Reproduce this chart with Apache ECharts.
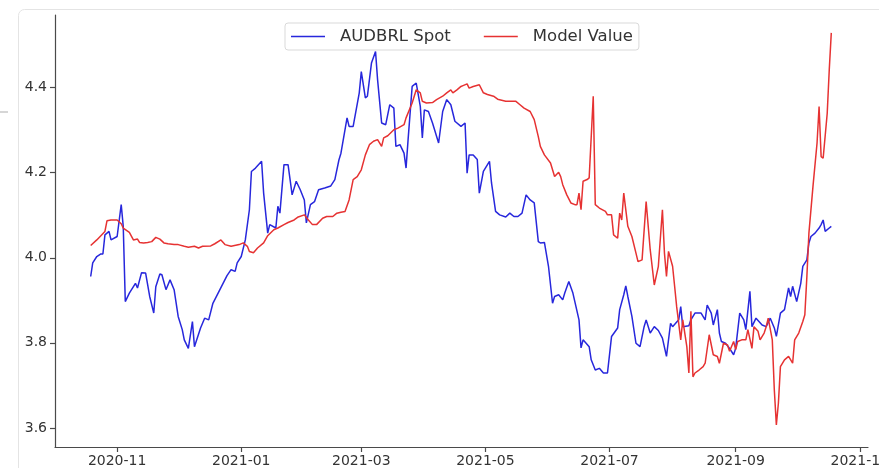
<!DOCTYPE html>
<html>
<head>
<meta charset="utf-8">
<script src="https://cdn.jsdelivr.net/npm/echarts@6/dist/echarts.min.js"></script>
<style>
html, body { margin: 0; padding: 0; background: #fff; }
#chart { width: 879px; height: 468px; }
</style>
</head>
<body>
<div id="chart"></div>
<script>
// AUDBRL Spot (blue)
var spotDates = [
	'2020-10-19','2020-10-20','2020-10-22','2020-10-24','2020-10-25','2020-10-26','2020-10-28','2020-10-29',
	'2020-11-01','2020-11-03','2020-11-04','2020-11-05','2020-11-07','2020-11-10','2020-11-11','2020-11-13',
	'2020-11-15','2020-11-17','2020-11-19','2020-11-20','2020-11-22','2020-11-23','2020-11-25','2020-11-27',
	'2020-11-29','2020-12-01','2020-12-03','2020-12-04','2020-12-06','2020-12-08','2020-12-09','2020-12-12',
	'2020-12-14','2020-12-16','2020-12-18','2020-12-22','2020-12-25','2020-12-27','2020-12-29','2020-12-30',
	'2021-01-01','2021-01-03','2021-01-05','2021-01-06','2021-01-08','2021-01-11','2021-01-12','2021-01-14',
	'2021-01-15','2021-01-18','2021-01-19','2021-01-20','2021-01-22','2021-01-24','2021-01-25','2021-01-26',
	'2021-01-28','2021-01-30','2021-02-01','2021-02-02','2021-02-04','2021-02-06','2021-02-08','2021-02-11',
	'2021-02-14','2021-02-16','2021-02-18','2021-02-19','2021-02-22','2021-02-23','2021-02-25','2021-02-28',
	'2021-03-01','2021-03-03','2021-03-04','2021-03-06','2021-03-08','2021-03-09','2021-03-11','2021-03-13',
	'2021-03-15','2021-03-17','2021-03-18','2021-03-20','2021-03-22','2021-03-23','2021-03-24','2021-03-26',
	'2021-03-28','2021-03-30','2021-03-31','2021-04-01','2021-04-03','2021-04-05','2021-04-08','2021-04-10',
	'2021-04-12','2021-04-14','2021-04-16','2021-04-19','2021-04-21','2021-04-22','2021-04-23','2021-04-25',
	'2021-04-27','2021-04-28','2021-04-30','2021-05-03','2021-05-04','2021-05-06','2021-05-08','2021-05-11',
	'2021-05-13','2021-05-15','2021-05-17','2021-05-19','2021-05-21','2021-05-23','2021-05-25','2021-05-27',
	'2021-05-28','2021-05-30','2021-06-01','2021-06-03','2021-06-04','2021-06-06','2021-06-08','2021-06-09',
	'2021-06-11','2021-06-13','2021-06-16','2021-06-17','2021-06-18','2021-06-21','2021-06-22','2021-06-24',
	'2021-06-26','2021-06-28','2021-06-30','2021-07-02','2021-07-05','2021-07-06','2021-07-08','2021-07-09',
	'2021-07-10','2021-07-12','2021-07-14','2021-07-16','2021-07-18','2021-07-19','2021-07-21','2021-07-23',
	'2021-07-25','2021-07-27','2021-07-29','2021-07-31','2021-08-01','2021-08-04','2021-08-05','2021-08-06',
	'2021-08-09','2021-08-10','2021-08-12','2021-08-15','2021-08-17','2021-08-18','2021-08-20','2021-08-21',
	'2021-08-23','2021-08-24','2021-08-25','2021-08-27','2021-08-29','2021-08-31','2021-09-01','2021-09-03',
	'2021-09-05','2021-09-06','2021-09-08','2021-09-09','2021-09-11','2021-09-14','2021-09-16','2021-09-18',
	'2021-09-20','2021-09-21','2021-09-23','2021-09-25','2021-09-27','2021-09-28','2021-09-29','2021-10-01',
	'2021-10-03','2021-10-04','2021-10-06','2021-10-07','2021-10-08','2021-10-10','2021-10-12','2021-10-13',
	'2021-10-14','2021-10-15','2021-10-17','2021-10-18'
];
var spotValues = [
	3.956,3.988,4.003,4.009,4.009,4.054,4.062,4.042,
	4.050,4.125,4.074,3.897,3.917,3.940,3.929,3.965,
	3.964,3.909,3.870,3.932,3.962,3.960,3.925,3.948,
	3.925,3.862,3.831,3.807,3.787,3.850,3.791,3.835,
	3.858,3.854,3.892,3.930,3.958,3.972,3.968,3.988,
	4.003,4.042,4.113,4.203,4.211,4.227,4.152,4.058,
	4.078,4.070,4.121,4.105,4.219,4.219,4.184,4.148,
	4.180,4.160,4.136,4.082,4.125,4.132,4.160,4.164,
	4.169,4.184,4.230,4.246,4.329,4.309,4.309,4.388,
	4.438,4.376,4.380,4.458,4.485,4.419,4.317,4.313,
	4.360,4.352,4.262,4.266,4.246,4.211,4.278,4.403,
	4.411,4.356,4.282,4.348,4.344,4.317,4.270,4.344,
	4.372,4.360,4.321,4.309,4.317,4.199,4.242,4.242,
	4.231,4.152,4.203,4.227,4.176,4.109,4.101,4.096,
	4.105,4.097,4.097,4.105,4.148,4.136,4.129,4.038,
	4.035,4.036,3.980,3.893,3.909,3.913,3.901,3.917,
	3.944,3.917,3.854,3.788,3.807,3.791,3.760,3.736,
	3.740,3.729,3.729,3.815,3.835,3.878,3.913,3.934,
	3.909,3.862,3.799,3.791,3.838,3.854,3.823,3.838,
	3.829,3.811,3.768,3.846,3.838,3.854,3.885,3.838,
	3.840,3.854,3.870,3.870,3.854,3.889,3.870,3.842,
	3.878,3.823,3.803,3.799,3.787,3.772,3.787,3.870,
	3.854,3.831,3.921,3.838,3.858,3.842,3.838,3.858,
	3.835,3.815,3.870,3.878,3.929,3.909,3.933,3.897,
	3.940,3.980,3.995,4.035,4.050,4.058,4.070,4.078,
	4.089,4.062,4.070,4.074
];

// Model Value (red)
var modelDates = [
	'2020-10-19','2020-10-22','2020-10-24','2020-10-26','2020-10-27','2020-10-29','2020-11-01','2020-11-03',
	'2020-11-04','2020-11-07','2020-11-09','2020-11-11','2020-11-12','2020-11-14','2020-11-16','2020-11-18',
	'2020-11-20','2020-11-22','2020-11-24','2020-11-26','2020-11-29','2020-12-01','2020-12-04','2020-12-06',
	'2020-12-09','2020-12-11','2020-12-13','2020-12-17','2020-12-19','2020-12-22','2020-12-24','2020-12-27',
	'2020-12-31','2021-01-02','2021-01-04','2021-01-05','2021-01-07','2021-01-09','2021-01-12','2021-01-14',
	'2021-01-17','2021-01-19','2021-01-22','2021-01-24','2021-01-27','2021-01-29','2021-02-01','2021-02-03',
	'2021-02-05','2021-02-07','2021-02-10','2021-02-12','2021-02-15','2021-02-17','2021-02-19','2021-02-21',
	'2021-02-23','2021-02-25','2021-02-27','2021-03-01','2021-03-03','2021-03-05','2021-03-07','2021-03-09',
	'2021-03-11','2021-03-12','2021-03-14','2021-03-17','2021-03-19','2021-03-22','2021-03-23','2021-03-26',
	'2021-03-28','2021-03-30','2021-03-31','2021-04-02','2021-04-05','2021-04-07','2021-04-10','2021-04-12',
	'2021-04-14','2021-04-15','2021-04-17','2021-04-19','2021-04-20','2021-04-22','2021-04-23','2021-04-25',
	'2021-04-28','2021-04-30','2021-05-02','2021-05-05','2021-05-07','2021-05-11','2021-05-13','2021-05-16',
	'2021-05-18','2021-05-20','2021-05-23','2021-05-25','2021-05-27','2021-05-28','2021-05-30','2021-06-02',
	'2021-06-04','2021-06-06','2021-06-07','2021-06-08','2021-06-10','2021-06-12','2021-06-14','2021-06-15',
	'2021-06-16','2021-06-17','2021-06-18','2021-06-20','2021-06-21','2021-06-23','2021-06-24','2021-06-26',
	'2021-06-29','2021-06-30','2021-07-02','2021-07-03','2021-07-05','2021-07-06','2021-07-07','2021-07-08',
	'2021-07-10','2021-07-12','2021-07-14','2021-07-15','2021-07-17','2021-07-19','2021-07-21','2021-07-23',
	'2021-07-25','2021-07-27','2021-07-28','2021-07-29','2021-07-30','2021-08-01','2021-08-02','2021-08-03',
	'2021-08-05','2021-08-06','2021-08-08','2021-08-09','2021-08-10','2021-08-11','2021-08-12','2021-08-14',
	'2021-08-16','2021-08-17','2021-08-19','2021-08-21','2021-08-23','2021-08-24','2021-08-26','2021-08-28',
	'2021-08-29','2021-08-31','2021-09-01','2021-09-02','2021-09-04','2021-09-06','2021-09-07','2021-09-09',
	'2021-09-10','2021-09-12','2021-09-13','2021-09-15','2021-09-16','2021-09-17','2021-09-19','2021-09-20',
	'2021-09-21','2021-09-22','2021-09-23','2021-09-25','2021-09-27','2021-09-29','2021-09-30','2021-10-02',
	'2021-10-04','2021-10-05','2021-10-06','2021-10-07','2021-10-09','2021-10-11','2021-10-12','2021-10-13',
	'2021-10-14','2021-10-16','2021-10-17','2021-10-18'
];
var modelValues = [
	4.029,4.042,4.052,4.062,4.087,4.089,4.089,4.080,
	4.070,4.060,4.042,4.044,4.036,4.035,4.036,4.038,
	4.048,4.044,4.035,4.033,4.031,4.031,4.027,4.025,
	4.027,4.023,4.027,4.028,4.033,4.042,4.031,4.027,
	4.031,4.035,4.027,4.015,4.012,4.023,4.035,4.052,
	4.066,4.070,4.078,4.083,4.089,4.096,4.101,4.089,
	4.078,4.078,4.093,4.097,4.097,4.105,4.107,4.109,
	4.136,4.184,4.191,4.207,4.242,4.266,4.274,4.278,
	4.262,4.282,4.287,4.301,4.305,4.313,4.329,4.364,
	4.395,4.388,4.368,4.364,4.365,4.372,4.380,4.388,
	4.395,4.388,4.395,4.403,4.405,4.409,4.399,4.403,
	4.407,4.388,4.384,4.380,4.373,4.368,4.368,4.368,
	4.360,4.352,4.344,4.325,4.285,4.262,4.242,4.223,
	4.191,4.201,4.191,4.172,4.148,4.129,4.125,4.125,
	4.152,4.113,4.180,4.184,4.188,4.380,4.125,4.117,
	4.109,4.101,4.101,4.054,4.046,4.105,4.089,4.152,
	4.074,4.050,4.011,3.991,3.995,4.132,4.019,3.936,
	3.980,4.113,4.011,3.956,4.015,3.980,3.933,3.885,
	3.807,3.854,3.791,3.729,3.874,3.720,3.729,3.736,
	3.744,3.752,3.819,3.772,3.768,3.752,3.799,3.795,
	3.780,3.803,3.784,3.803,3.807,3.807,3.831,3.787,
	3.838,3.827,3.807,3.823,3.838,3.858,3.807,3.689,
	3.607,3.658,3.744,3.760,3.768,3.752,3.807,3.823,
	3.850,3.866,3.956,4.058,4.168,4.270,4.356,4.238,
	4.234,4.340,4.442,4.529
];

var monthTicks = ['2020-11', '2021-01', '2021-03', '2021-05', '2021-07', '2021-09', '2021-11'];
var valueTicks = [3.6, 3.8, 4.0, 4.2, 4.4];

function toTime(s) { // 日期字符串转时间戳
	return new Date(s + 'T00:00:00').getTime();
}

(function() {
	var myChart = echarts.init(document.getElementById('chart'));
	var tickTimes = monthTicks.map(function(m) { return toTime(m + '-01'); });
	var axisColor = '#4a4a4a';
	var option = {
		animation: false,
		textStyle: { fontFamily: 'DejaVu Sans' },
		graphic: [
			{ // 截图里的卡片边框
				type: 'rect', z: -10, silent: true,
				shape: { x: 18.5, y: 9.5, width: 900, height: 520, r: 6 },
				style: { fill: 'none', stroke: '#e4e4e4', lineWidth: 1 }
			},
			{
				type: 'line', z: -10, silent: true,
				shape: { x1: 0, y1: 112, x2: 8, y2: 112 },
				style: { stroke: '#d6d6d6', lineWidth: 2 }
			}
		],
		legend: {
			left: 285,
			top: 23,
			data: [
				{ name: 'AUDBRL Spot', icon: 'rect' },
				{ name: 'Model Value', icon: 'rect' }
			],
			itemWidth: 34,
			itemHeight: 1.6, //图例画成细线
			itemGap: 33,
			padding: [5, 6, 5, 6],
			backgroundColor: '#fff',
			borderColor: '#d9d9d9',
			borderWidth: 1,
			borderRadius: 3,
			textStyle: { fontSize: 16.5, color: '#333', padding: [0, 0, 0, 10] }
		},
		grid: { left: 55, right: 11, top: 15, bottom: 21, outerBoundsMode: 'none' },
		xAxis: {
			type: 'value', // 时间戳当数值轴用，刻度按月手动指定
			min: toTime('2020-10-01') + 11 * 3600e3,
			max: toTime('2021-11-05') + 1 * 3600e3,
			axisLine: { show: true, lineStyle: { color: axisColor, width: 1.2 } },
			axisTick: { show: true, customValues: tickTimes, length: 5, lineStyle: { color: axisColor, width: 1.2 } },
			axisLabel: {
				customValues: tickTimes,
				color: '#333',
				fontSize: 14,
				margin: 7,
				formatter: function(v) { return echarts.time.format(v, '{yyyy}-{MM}', false); }
			},
			splitLine: { show: false }
		},
		yAxis: {
			type: 'value',
			min: 3.555,
			max: 4.571,
			axisLine: { show: true, lineStyle: { color: axisColor, width: 1.2 } },
			axisTick: { show: true, customValues: valueTicks, length: 5, lineStyle: { color: axisColor, width: 1.2 } },
			axisLabel: {
				customValues: valueTicks,
				color: '#333',
				fontSize: 14,
				margin: 8,
				formatter: function(v) { return v.toFixed(1); }
			},
			splitLine: { show: false }
		},
		series: [
			{
				name: 'AUDBRL Spot',
				type: 'line',
				symbol: 'none',
				color: '#2727dc',
				lineStyle: { color: '#2727dc', width: 1.5 },
				data: spotDates.map(function(d, i) { return [toTime(d), spotValues[i]]; })
			},
			{
				name: 'Model Value',
				type: 'line',
				symbol: 'none',
				color: '#e63232',
				lineStyle: { color: '#e63232', width: 1.5 },
				data: modelDates.map(function(d, i) { return [toTime(d), modelValues[i]]; })
			}
		]
	};
	myChart.setOption(option);
	window.addEventListener('resize', function() {
		myChart.resize();
	});
})();
</script>
</body>
</html>
